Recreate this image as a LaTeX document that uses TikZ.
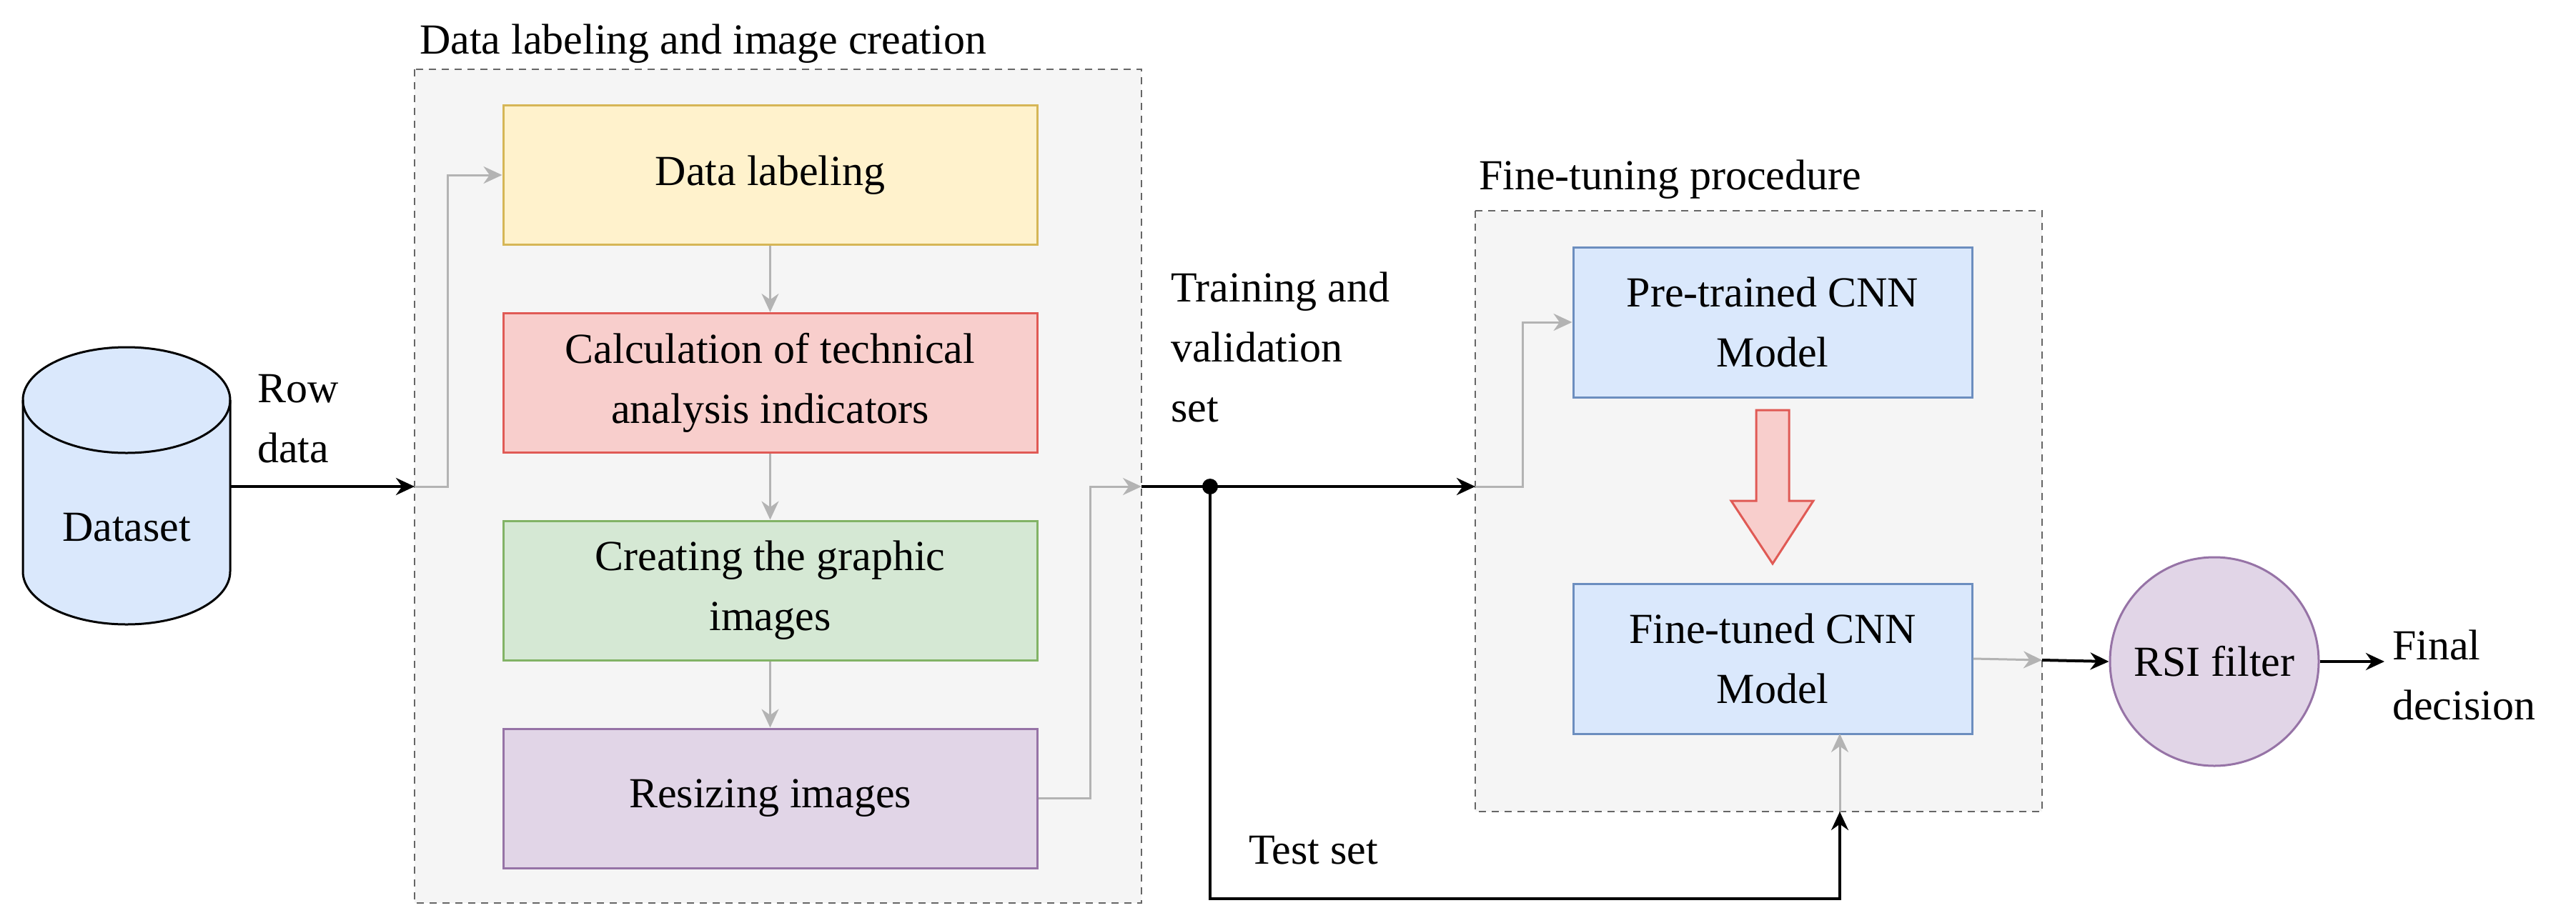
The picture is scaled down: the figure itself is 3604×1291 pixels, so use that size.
\documentclass[tikz,border=0pt]{standalone}
\usepackage{fontspec}
\setmainfont{Liberation Serif}
\usetikzlibrary{arrows.meta}
\definecolor{grp}{HTML}{F5F5F5}\definecolor{grpd}{HTML}{666666}
\definecolor{yf}{HTML}{FFF2CC}\definecolor{yd}{HTML}{D6B656}
\definecolor{rf}{HTML}{F8CECC}\definecolor{rd}{HTML}{E05A55}
\definecolor{gf}{HTML}{D5E8D4}\definecolor{gd}{HTML}{82B366}
\definecolor{pf}{HTML}{E1D5E7}\definecolor{pd}{HTML}{9673A6}
\definecolor{bf}{HTML}{DAE8FC}\definecolor{bd}{HTML}{6C8EBF}
\definecolor{ga}{HTML}{B3B3B3}
\begin{document}
\begin{tikzpicture}[x=1pt,y=-1pt,
  every node/.style={font=\rmfamily\fontsize{60}{84}\selectfont},
  box/.style={draw,line width=3pt,minimum width=747pt,minimum height=195pt,align=center,inner sep=0pt},
  grpbox/.style={draw=grpd,fill=grp,dashed,dash pattern=on 10pt off 8pt,line width=2.5pt},
  ba/.style={line width=4pt,-{Stealth[length=26pt,width=24pt]}},
  gaa/.style={draw=ga,line width=3pt,-{Stealth[length=26pt,width=24pt]}},
  txt/.style={align=left,inner sep=0pt,anchor=west}]
\useasboundingbox (0,0) rectangle (3604,1291);
% groups
\draw[grpbox] (580,97) rectangle (1597,1264);
\draw[grpbox] (2064,295) rectangle (2857,1136);
\node[inner sep=0pt,anchor=base west] (t1) at (587,75) {Data labeling and image creation};
\node[inner sep=0pt,anchor=base west] (t2) at (2069,265) {Fine-tuning procedure};
% cylinder
\draw[line width=3pt,fill=bf] (32,560) -- (32,800) arc[start angle=180,end angle=0,x radius=145,y radius=74] -- (322,560) arc[start angle=0,end angle=-180,x radius=145,y radius=74] -- cycle;
\draw[line width=3pt] (32,560) arc[start angle=180,end angle=0,x radius=145,y radius=74];
\node[inner sep=0pt,minimum width=290pt,minimum height=388pt] (ds) at (177,680) {};
\node (dst) at (177,738) {Dataset};
% boxes
\node[box,draw=yd,fill=yf] (dl) at (1077.5,245) {Data labeling};
\node[box,draw=rd,fill=rf] (calc) at (1077.5,536) {Calculation of technical\\analysis indicators};
\node[box,draw=gd,fill=gf] (cr) at (1077.5,826.5) {Creating the graphic\\images};
\node[box,draw=pd,fill=pf] (rs) at (1077.5,1117.5) {Resizing images};
\node[box,draw=bd,fill=bf,minimum width=558pt,minimum height=210pt] (pt) at (2480,451) {Pre-trained CNN\\Model};
\node[box,draw=bd,fill=bf,minimum width=558pt,minimum height=210pt] (ft) at (2480,922) {Fine-tuned CNN\\Model};
\node[circle,draw=pd,fill=pf,line width=3pt,minimum size=292pt,inner sep=0pt] (rsi) at (3098,926) {RSI filter};
% labels
\node[txt] (l1) at (360,586) {Row\\data};
\node[txt] (l2) at (1638,486) {Training and\\validation\\set};
\node[txt] (l3) at (1747,1190) {Test set};
\node[txt] (l4) at (3347,945) {Final\\decision};
% coordinates
\coordinate (in1) at (580,681);
\coordinate (out1) at (1597,681);
\coordinate (j) at (1693,681);
\coordinate (in2) at (2064,681);
\coordinate (out2) at (2857,924);
\coordinate (bt) at (2574,1136);
\coordinate (fin) at (3336,926);
% connectors
\draw[ba] (ds.east |- in1) -- (in1);
\draw[gaa] (in1) -- (626,681) |- (dl.west);
\draw[gaa] (dl) -- (calc);
\draw[gaa] (calc) -- (cr);
\draw[gaa] (cr) -- (rs);
\draw[gaa] (rs.east) -| (1525,681) -- (out1);
\draw[line width=4pt] (out1) -- (j);
\draw[ba] (j) -- (in2);
\fill (j) circle (11pt);
\draw[gaa] (in2) -- (2130,681) |- (pt.west);
\draw[ba] (j) |- (2574,1258) -- (bt);
\draw[gaa] (bt) -- (2574,1027);
\draw[gaa] (ft.east) -- (out2);
\draw[ba] (out2) -- (rsi.west);
\draw[ba] (rsi.east) -- (fin);
% red block arrow
\draw[draw=rd,fill=rf,line width=3pt] (2457,574) -- (2503,574) -- (2503,701) -- (2537,701) -- (2480,789) -- (2422,701) -- (2457,701) -- cycle;
\end{tikzpicture}
\end{document}
